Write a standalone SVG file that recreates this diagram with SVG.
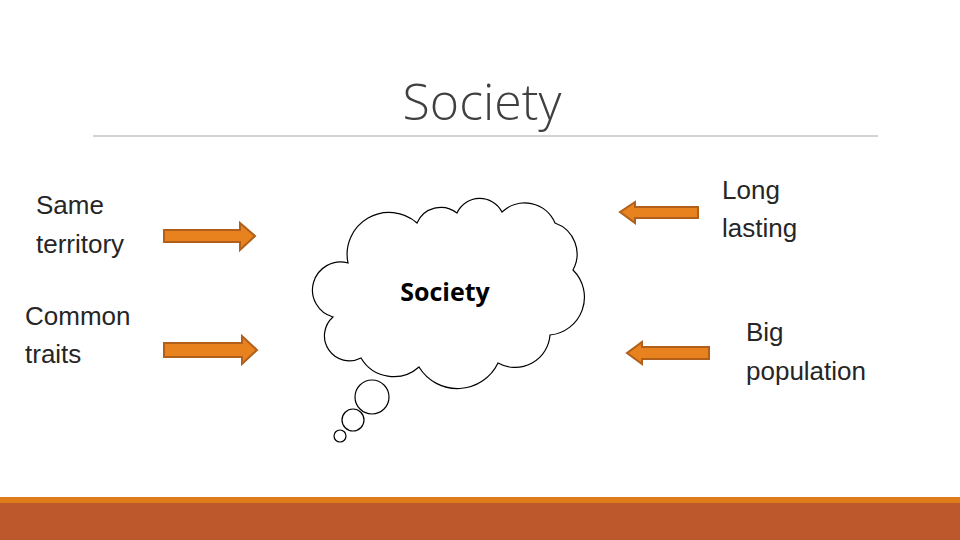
<svg xmlns="http://www.w3.org/2000/svg" width="960" height="540" viewBox="0 0 960 540">
<style>
.l{font-family:"Liberation Sans",Arial,sans-serif;font-size:26px;fill:#262626}
.ar{fill:#e8821e;stroke:#b0601a;stroke-width:2}
.c{fill:#fff;stroke:#000;stroke-width:1.2}
</style>
<rect width="960" height="540" fill="#fff"/>
<text x="482" y="120" text-anchor="middle" font-family="Open Sans,sans-serif" font-weight="300" font-size="50" fill="#404040">Society</text>
<line x1="93" y1="136" x2="878" y2="136" stroke="#a6a6a6" stroke-width="1"/>
<rect x="0" y="497" width="960" height="6" fill="#e07b1a"/>
<rect x="0" y="503" width="960" height="37" fill="#bd582c"/>
<g id="labels">
<text class="l" x="36" y="214">Same</text><text class="l" x="36" y="253">territory</text>
<text class="l" x="25" y="325">Common</text><text class="l" x="25" y="363">traits</text>
<text class="l" x="722" y="199">Long</text><text class="l" x="722" y="237">lasting</text>
<text class="l" x="746" y="341">Big</text><text class="l" x="746" y="380">population</text>
</g>
<g id="connectors">
<path class="ar" d="M164,230 H240 V223 L255,236 L240,250 V242 H164 Z"/>
<path class="ar" d="M164,343 H242 V336 L257,350 L242,364 V357 H164 Z"/>
<path class="ar" d="M698,207 H635 V202 L620,212 L635,223 V218 H698 Z"/>
<path class="ar" d="M709,347 H642 V342 L627,353 L642,364 V359 H709 Z"/>
</g>
<g id="cloud">
<path class="c" d="M348,263 A42,42 0 0 1 417,223 A26,26 0 0 1 457,213 A25,25 0 0 1 502,212 A33,33 0 0 1 555,223 A33,33 0 0 1 573,270 A38,38 0 0 1 550,335 A35,35 0 0 1 498,363 A45,45 0 0 1 419,367 A38,38 0 0 1 361,358 A25,25 0 0 1 333,317 A28,28 0 0 1 348,263 Z"/>
<circle class="c" cx="372" cy="397" r="17"/>
<circle class="c" cx="353" cy="420" r="11"/>
<circle class="c" cx="340" cy="436" r="6"/>
<text x="445" y="301" text-anchor="middle" font-family="Open Sans,sans-serif" font-weight="bold" font-size="25" fill="#000">Society</text>
</g>
</svg>
